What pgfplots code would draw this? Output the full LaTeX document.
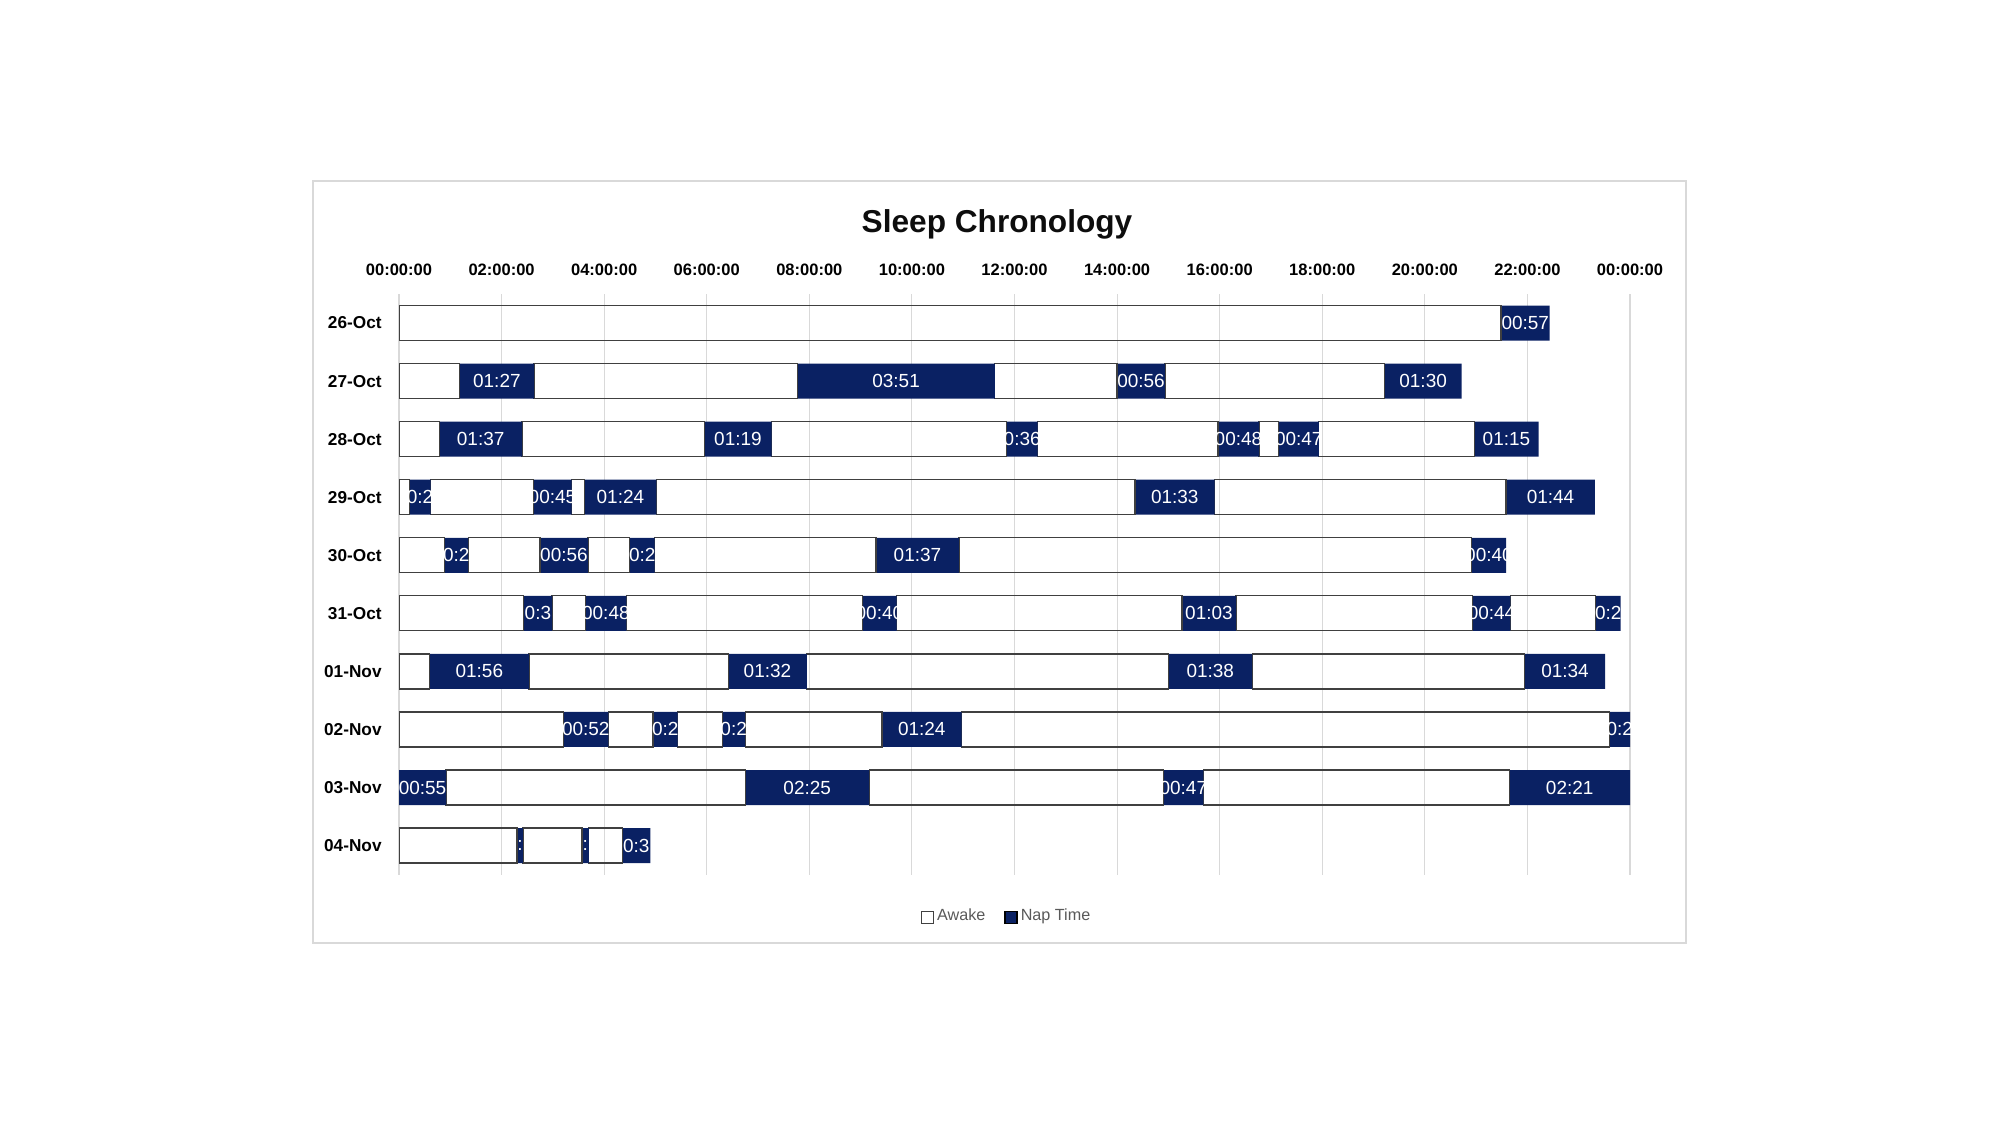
\documentclass[border=0pt]{standalone}
\usepackage{fontspec}
\setmainfont{Liberation Sans}
\usepackage{pgfplots}
\usepackage{pgfplotstable}
\pgfplotsset{compat=1.18}

\definecolor{navy}{HTML}{0A2163}
\definecolor{edge}{HTML}{404040}
\definecolor{gridc}{HTML}{D9D9D9}
\definecolor{legc}{HTML}{595959}

% minutes of each segment, awake (A) and nap (N), with the nap label as shown
\pgfplotstableread{
y A1 N1 L1 A2 N2 L2 A3 N3 L3 A4 N4 L4 A5 N5 L5 A6 N6 L6
0 1289 57 00:57 0 0 {} 0 0 {} 0 0 {} 0 0 {} 0 0 {}
1 71 87 01:27 308 231 03:51 143 56 00:56 257 90 01:30 0 0 {} 0 0 {}
2 47 97 01:37 213 79 01:19 275 36 0:36 211 48 00:48 23 47 00:47 182 75 01:15
3 12 25 0:2 120 45 00:45 15 84 01:24 560 93 01:33 341 104 01:44 0 0 {}
4 53 28 0:2 84 56 00:56 49 29 0:2 259 97 01:37 600 40 00:40 0 0 {}
5 146 33 0:3 39 48 00:48 276 40 00:40 334 63 01:03 277 44 00:44 100 29 0:2
6 36 116 01:56 233 92 01:32 423 98 01:38 319 94 01:34 0 0 {} 0 0 {}
7 192 53 00:52 52 29 0:2 52 27 0:2 160 93 01:24 758 24 0:2 0 0 {}
8 0 55 00:55 350 145 02:25 344 47 00:47 358 141 02:21 0 0 {} 0 0 {}
9 138 7 : 69 8 : 39 33 0:3 0 0 {} 0 0 {} 0 0 {}
}\data

\pgfplotsset{
  awake/.style={draw=edge, fill=none, line width=0.35pt},
  nap/.style={fill=navy, draw=none,
    nodes near coords, point meta=explicit symbolic,
    every node near coord/.append style={anchor=center, text=white,
      font=\fontsize{5.4}{6}\selectfont, inner sep=0pt}},
}

\begin{document}
\begin{tikzpicture}
\useasboundingbox (0,0) rectangle (20,11.25);
\draw[gridc, line width=0.3pt] (3.13,1.82) rectangle (16.86,9.44);
\node[font=\fontsize{9}{10}\selectfont\bfseries, text=black!95] at (9.97,9.01) {Sleep Chronology};

\begin{axis}[
  at={(3.99cm,2.504cm)}, anchor=south west,
  scale only axis, width=12.31cm, height=5.806cm,
  xbar stacked, bar width=3.5mm,
  xmin=0, xmax=1440, ymin=-0.5, ymax=9.5,
  y dir=reverse,
  axis line style={draw=none},
  major tick length=0pt,
  xticklabel pos=top,
  xtick={0,120,...,1440},
  xticklabels={00:00:00,02:00:00,04:00:00,06:00:00,08:00:00,10:00:00,12:00:00,14:00:00,16:00:00,18:00:00,20:00:00,22:00:00,00:00:00},
  xticklabel style={font=\fontsize{4.7}{5}\selectfont\bfseries, anchor=south, yshift=0.6mm},
  ytick={0,...,9},
  yticklabels={26-Oct,27-Oct,28-Oct,29-Oct,30-Oct,31-Oct,01-Nov,02-Nov,03-Nov,04-Nov},
  yticklabel style={font=\fontsize{4.9}{5}\selectfont\bfseries, anchor=east, xshift=-0.5mm},
  xmajorgrids, major grid style={gridc, line width=0.3pt},
  legend columns=2,
  legend entries={Awake,Nap Time},
  legend style={at={(0.494,-0.074)}, anchor=center, draw=none, fill=none,
    font=\fontsize{4.6}{5}\selectfont, text=legc,
    nodes={inner xsep=0.3mm},
    /tikz/every even column/.append style={column sep=1.6mm}},
  legend image code/.code={\draw[#1] (0mm,-0.6mm) rectangle (1.2mm,0.6mm);},
]
\addplot[awake] table[x=A1, y=y] {\data};
\addplot[nap] table[x=N1, y=y, meta=L1] {\data};
\addplot[awake] table[x=A2, y=y] {\data};
\addplot[nap] table[x=N2, y=y, meta=L2] {\data};
\addplot[awake] table[x=A3, y=y] {\data};
\addplot[nap] table[x=N3, y=y, meta=L3] {\data};
\addplot[awake] table[x=A4, y=y] {\data};
\addplot[nap] table[x=N4, y=y, meta=L4] {\data};
\addplot[awake] table[x=A5, y=y] {\data};
\addplot[nap] table[x=N5, y=y, meta=L5] {\data};
\addplot[awake] table[x=A6, y=y] {\data};
\addplot[nap] table[x=N6, y=y, meta=L6] {\data};
\end{axis}
\end{tikzpicture}
\end{document}
